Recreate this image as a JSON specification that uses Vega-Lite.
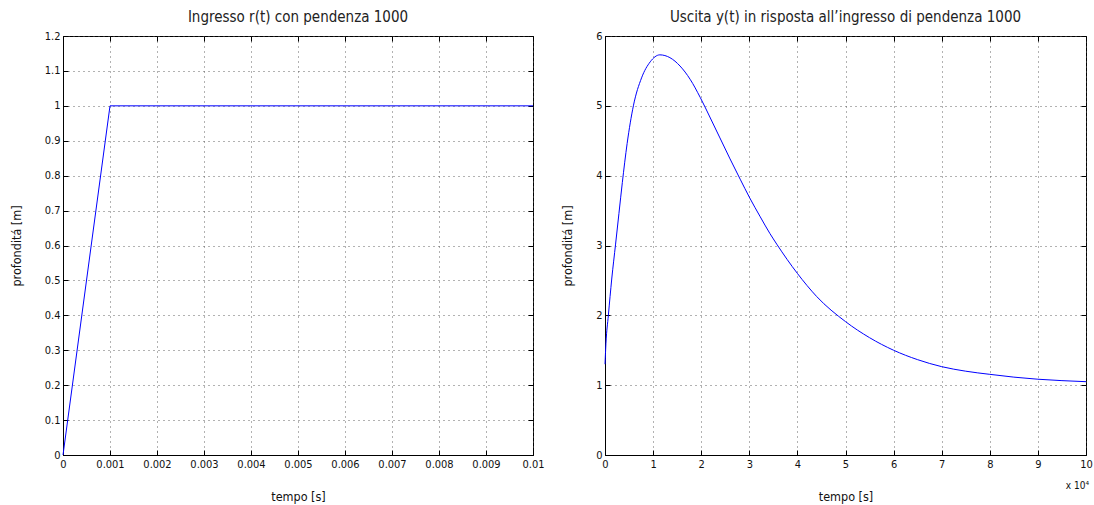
{
  "$schema": "https://vega.github.io/schema/vega-lite/v6.json",
  "background": "white",
  "padding": {"left": 9, "top": 9, "right": 5, "bottom": 5},
  "bounds": "flush",
  "spacing": 72,
  "config": {
    "font": "DejaVu Sans Condensed",
    "view": {"stroke": "black", "strokeWidth": 1},
    "title": {"fontSize": 15, "fontWeight": "normal", "color": "#222", "offset": 5},
    "axis": {
      "labelFontSize": 11,
      "labelColor": "#111",
      "titleFontSize": 12.5,
      "titleFontWeight": "normal",
      "titleColor": "#111",
      "domainColor": "black",
      "tickColor": "black",
      "tickSize": -5,
      "labelPadding": 8,
      "gridColor": "#555",
      "gridDash": [1, 4],
      "gridOpacity": 0.9,
      "labelFlush": false,
      "labelOverlap": false
    }
  },
  "hconcat": [
    {
      "width": 470,
      "height": 419,
      "title": {"text": "Ingresso r(t) con pendenza 1000"},
      "data": {"values": [
        {"t": 0, "r": 0},
        {"t": 0.001, "r": 1},
        {"t": 0.01, "r": 1}
      ]},
      "layer": [
        {
          "mark": {"type": "line", "color": "#0000ff", "strokeWidth": 1},
          "encoding": {
            "x": {"field": "t", "type": "quantitative",
                  "scale": {"domain": [0, 0.01], "nice": false},
                  "axis": {"title": "tempo [s]", "values": [0, 0.001, 0.002, 0.003, 0.004, 0.005, 0.006, 0.007, 0.008, 0.009, 0.01],
                           "labelExpr": "datum.value === 0 ? '0' : format(datum.value, '.3~f')", "titlePadding": 21}},
            "y": {"field": "r", "type": "quantitative",
                  "scale": {"domain": [0, 1.2], "nice": false},
                  "axis": {"title": "profonditá [m]", "values": [0, 0.1, 0.2, 0.3, 0.4, 0.5, 0.6, 0.7, 0.8, 0.9, 1, 1.1, 1.2],
                           "labelExpr": "format(datum.value, '~g')", "titlePadding": 21}}
          }
        },
        {
          "mark": {"type": "line", "opacity": 0},
          "encoding": {
            "x": {"field": "t", "type": "quantitative",
                  "axis": {"orient": "top", "title": null, "labels": false, "grid": false, "domain": false,
                           "values": [0, 0.001, 0.002, 0.003, 0.004, 0.005, 0.006, 0.007, 0.008, 0.009, 0.01]}},
            "y": {"field": "r", "type": "quantitative",
                  "axis": {"orient": "right", "title": null, "labels": false, "grid": false, "domain": false,
                           "values": [0, 0.1, 0.2, 0.3, 0.4, 0.5, 0.6, 0.7, 0.8, 0.9, 1, 1.1, 1.2]}}
          }
        }
      ],
      "resolve": {"axis": {"x": "independent", "y": "independent"}}
    },
    {
      "width": 481,
      "height": 419,
      "title": {"text": "Uscita y(t) in risposta all’ingresso di pendenza 1000"},
      "layer": [
        {
          "data": {"name": "risposta", "values": [
            {"t": 0, "y": 1.3},
            {"t": 200, "y": 1.6},
            {"t": 700, "y": 2.0},
            {"t": 1400, "y": 2.52},
            {"t": 2200, "y": 3.02},
            {"t": 2900, "y": 3.46},
            {"t": 3600, "y": 3.9},
            {"t": 4600, "y": 4.46},
            {"t": 5900, "y": 5.0},
            {"t": 7600, "y": 5.4},
            {"t": 9400, "y": 5.63},
            {"t": 11400, "y": 5.73},
            {"t": 13500, "y": 5.69},
            {"t": 15600, "y": 5.57},
            {"t": 17700, "y": 5.38},
            {"t": 19800, "y": 5.12},
            {"t": 21800, "y": 4.84},
            {"t": 23900, "y": 4.54},
            {"t": 26000, "y": 4.24},
            {"t": 28100, "y": 3.95},
            {"t": 30100, "y": 3.68},
            {"t": 32200, "y": 3.42},
            {"t": 34300, "y": 3.17},
            {"t": 35700, "y": 3.02},
            {"t": 40000, "y": 2.6},
            {"t": 44000, "y": 2.27},
            {"t": 50000, "y": 1.91},
            {"t": 55000, "y": 1.68},
            {"t": 60000, "y": 1.5},
            {"t": 65000, "y": 1.365},
            {"t": 70000, "y": 1.265},
            {"t": 75000, "y": 1.2},
            {"t": 80000, "y": 1.155},
            {"t": 85000, "y": 1.115},
            {"t": 90000, "y": 1.085},
            {"t": 95000, "y": 1.065},
            {"t": 100000, "y": 1.05}
          ]},
          "layer": [
            {
              "mark": {"type": "line", "color": "#0000ff", "strokeWidth": 1, "interpolate": "monotone"},
              "encoding": {
                "x": {"field": "t", "type": "quantitative",
                      "scale": {"domain": [0, 100000], "nice": false},
                      "axis": {"title": "tempo [s]", "values": [0, 10000, 20000, 30000, 40000, 50000, 60000, 70000, 80000, 90000, 100000],
                               "labelExpr": "format(datum.value / 10000, 'd')", "titlePadding": 21}},
                "y": {"field": "y", "type": "quantitative",
                      "scale": {"domain": [0, 6], "nice": false},
                      "axis": {"title": "profonditá [m]", "values": [0, 1, 2, 3, 4, 5, 6], "titlePadding": 21}}
              }
            },
            {
              "mark": {"type": "line", "opacity": 0},
              "encoding": {
                "x": {"field": "t", "type": "quantitative",
                      "axis": {"orient": "top", "title": null, "labels": false, "grid": false, "domain": false,
                               "values": [0, 10000, 20000, 30000, 40000, 50000, 60000, 70000, 80000, 90000, 100000]}},
                "y": {"field": "y", "type": "quantitative",
                      "axis": {"orient": "right", "title": null, "labels": false, "grid": false, "domain": false,
                               "values": [0, 1, 2, 3, 4, 5, 6]}}
              }
            }
          ],
          "resolve": {"axis": {"x": "independent", "y": "independent"}}
        },
        {
          "data": {"values": [{"t": 100000, "y": 0, "label": "x 10⁴"}]},
          "mark": {"type": "text", "fontSize": 10, "align": "right", "baseline": "middle", "dy": 31, "dx": 3, "color": "#111"},
          "encoding": {
            "x": {"field": "t", "type": "quantitative", "axis": null},
            "y": {"field": "y", "type": "quantitative", "axis": null},
            "text": {"field": "label"}
          }
        }
      ],
      "resolve": {"axis": {"x": "independent", "y": "independent"}}
    }
  ]
}
